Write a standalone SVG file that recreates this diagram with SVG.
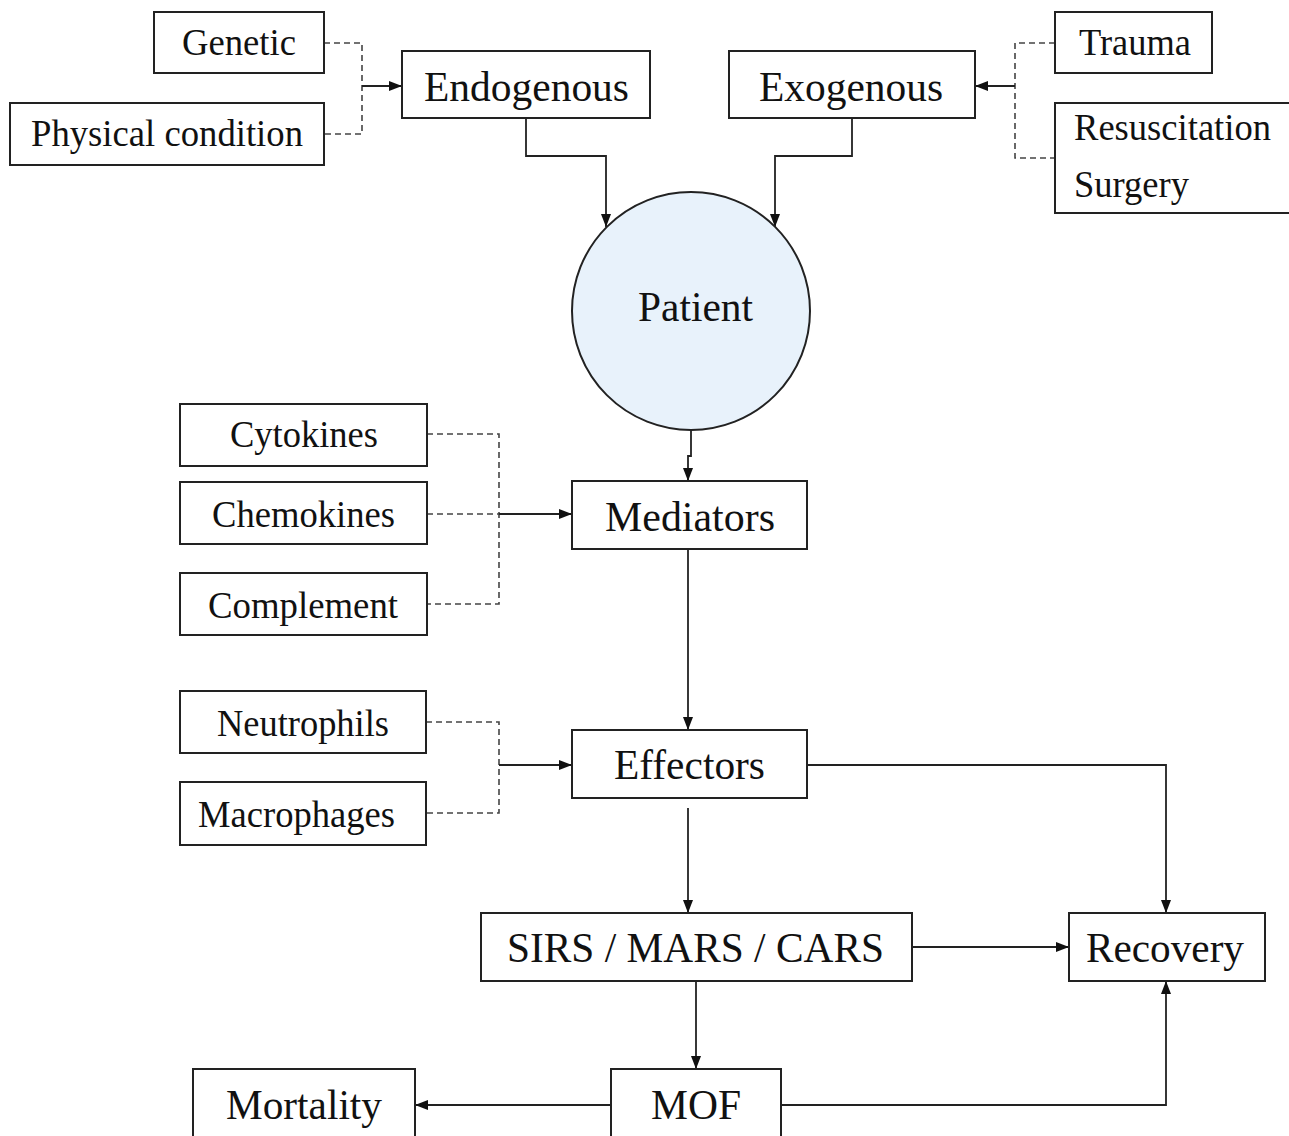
<svg xmlns="http://www.w3.org/2000/svg" width="1289" height="1136" viewBox="0 0 1289 1136">
<defs>
<marker id="ah" viewBox="0 0 13 10" refX="13" refY="5" markerWidth="13" markerHeight="10" markerUnits="userSpaceOnUse" orient="auto">
<path d="M0,0 L13,5 L0,10 Z" fill="#111"/>
</marker>
</defs>
<style>
.box{fill:#fff;stroke:#222;stroke-width:2}
.t{font-family:"Liberation Serif","Times New Roman",serif;fill:#111;text-anchor:start}
.s{font-size:37px}
.l{font-size:43px}
.c{fill:none;stroke:#222;stroke-width:1.8}
.d{fill:none;stroke:#444;stroke-width:1.6;stroke-dasharray:6,4}
</style>
<rect width="1289" height="1136" fill="#fff"/>
<g id="connectors">
<path class="d" d="M324,43 H362 V134 H324"/>
<path class="c" d="M362,86 H402" marker-end="url(#ah)"/>
<path class="d" d="M1055,43 H1015 V158 H1055"/>
<path class="c" d="M1015,86 H975" marker-end="url(#ah)"/>
<path class="c" d="M526,118 V156 H606 V227" marker-end="url(#ah)"/>
<path class="c" d="M852,118 V156 H775 V227" marker-end="url(#ah)"/>
<path class="c" d="M691,430 V456 H688 V481" marker-end="url(#ah)"/>
<path class="d" d="M427,434 H499 V604 H427 M427,514 H499"/>
<path class="c" d="M499,514 H572" marker-end="url(#ah)"/>
<path class="c" d="M688,549 V730" marker-end="url(#ah)"/>
<path class="d" d="M426,722 H499 V813 H426"/>
<path class="c" d="M499,765 H572" marker-end="url(#ah)"/>
<path class="c" d="M807,765 H1166 V913" marker-end="url(#ah)"/>
<path class="c" d="M688,808 V913" marker-end="url(#ah)"/>
<path class="c" d="M912,947 H1069" marker-end="url(#ah)"/>
<path class="c" d="M696,981 V1069" marker-end="url(#ah)"/>
<path class="c" d="M611,1105 H415" marker-end="url(#ah)"/>
<path class="c" d="M781,1105 H1166 V981" marker-end="url(#ah)"/>
</g>
<g id="genetic"><rect class="box" x="154" y="12" width="170" height="61"/><text class="t s" x="182" y="55" textLength="114" lengthAdjust="spacingAndGlyphs">Genetic</text></g>
<g id="physical"><rect class="box" x="10" y="103" width="314" height="62"/><text class="t s" x="31" y="146" textLength="272" lengthAdjust="spacingAndGlyphs">Physical condition</text></g>
<g id="endogenous"><rect class="box" x="402" y="51" width="248" height="67"/><text class="t l" x="424" y="101" textLength="205" lengthAdjust="spacingAndGlyphs">Endogenous</text></g>
<g id="exogenous"><rect class="box" x="729" y="51" width="246" height="67"/><text class="t l" x="759" y="101" textLength="184" lengthAdjust="spacingAndGlyphs">Exogenous</text></g>
<g id="trauma"><rect class="box" x="1055" y="12" width="157" height="61"/><text class="t s" x="1079" y="55" textLength="112" lengthAdjust="spacingAndGlyphs">Trauma</text></g>
<g id="resuscitation"><rect class="box" x="1055" y="103" width="240" height="110"/><text class="t s" x="1074" y="140" textLength="197" lengthAdjust="spacingAndGlyphs">Resuscitation</text><text class="t s" x="1074" y="197" textLength="115" lengthAdjust="spacingAndGlyphs">Surgery</text></g>
<g id="patient"><circle cx="691" cy="311" r="119" fill="#e8f2fb" stroke="#222" stroke-width="2"/><text class="t l" x="638" y="321" textLength="115" lengthAdjust="spacingAndGlyphs">Patient</text></g>
<g id="cytokines"><rect class="box" x="180" y="404" width="247" height="62"/><text class="t s" x="230" y="447" textLength="148" lengthAdjust="spacingAndGlyphs">Cytokines</text></g>
<g id="chemokines"><rect class="box" x="180" y="482" width="247" height="62"/><text class="t s" x="212" y="527" textLength="183" lengthAdjust="spacingAndGlyphs">Chemokines</text></g>
<g id="complement"><rect class="box" x="180" y="573" width="247" height="62"/><text class="t s" x="208" y="618" textLength="190" lengthAdjust="spacingAndGlyphs">Complement</text></g>
<g id="mediators"><rect class="box" x="572" y="481" width="235" height="68"/><text class="t l" x="605" y="531" textLength="170" lengthAdjust="spacingAndGlyphs">Mediators</text></g>
<g id="neutrophils"><rect class="box" x="180" y="691" width="246" height="62"/><text class="t s" x="217" y="736" textLength="172" lengthAdjust="spacingAndGlyphs">Neutrophils</text></g>
<g id="macrophages"><rect class="box" x="180" y="782" width="246" height="63"/><text class="t s" x="198" y="827" textLength="197" lengthAdjust="spacingAndGlyphs">Macrophages</text></g>
<g id="effectors"><rect class="box" x="572" y="730" width="235" height="68"/><text class="t l" x="614" y="779" textLength="151" lengthAdjust="spacingAndGlyphs">Effectors</text></g>
<g id="sirs"><rect class="box" x="481" y="913" width="431" height="68"/><text class="t l" x="507" y="962" textLength="377" lengthAdjust="spacingAndGlyphs">SIRS / MARS / CARS</text></g>
<g id="recovery"><rect class="box" x="1069" y="913" width="196" height="68"/><text class="t l" x="1086" y="962" textLength="158" lengthAdjust="spacingAndGlyphs">Recovery</text></g>
<g id="mof"><rect class="box" x="611" y="1069" width="170" height="80"/><text class="t l" x="651" y="1119" textLength="90" lengthAdjust="spacingAndGlyphs">MOF</text></g>
<g id="mortality"><rect class="box" x="193" y="1069" width="222" height="80"/><text class="t l" x="226" y="1119" textLength="156" lengthAdjust="spacingAndGlyphs">Mortality</text></g>
</svg>
